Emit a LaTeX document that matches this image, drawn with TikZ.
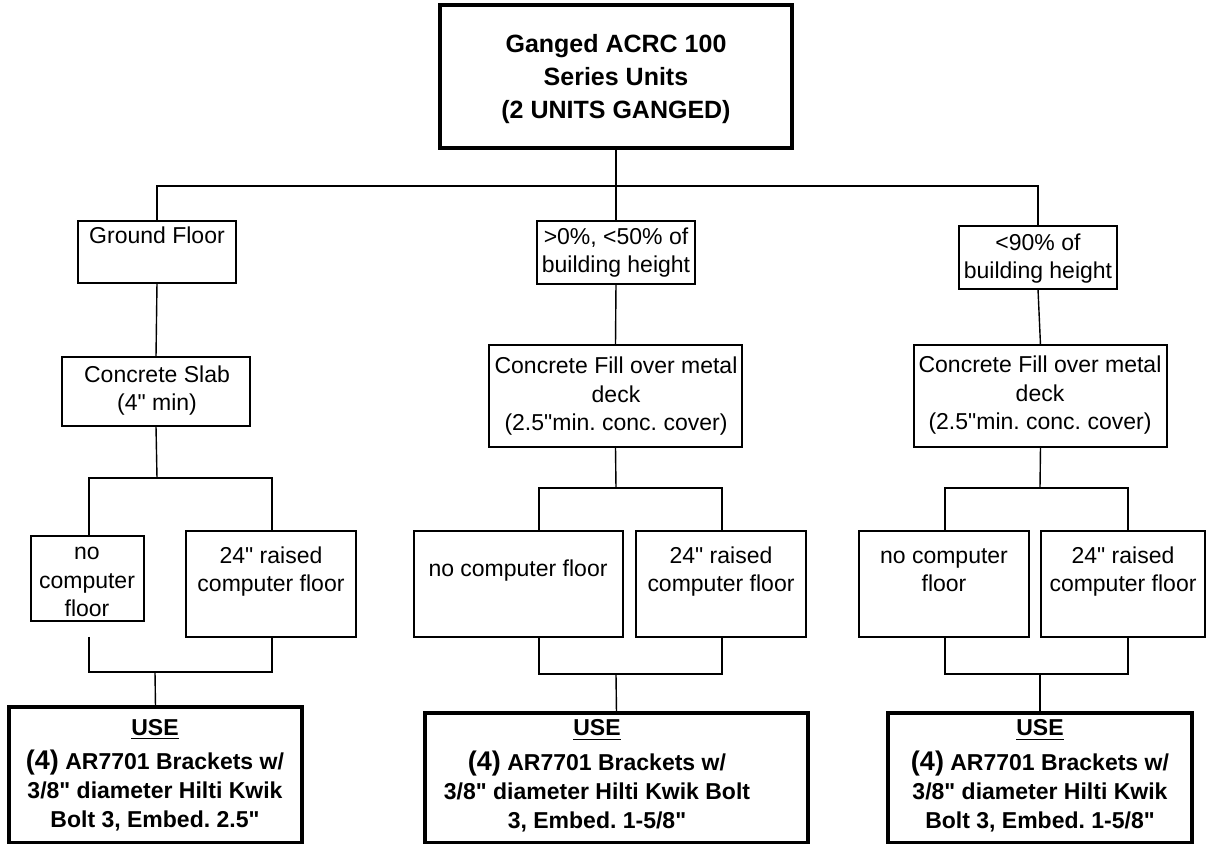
\documentclass[tikz,border=0pt]{standalone}
\usepackage{fontspec}
\newfontfamily\arial{Liberation Sans}
\frenchspacing
\newcommand\bx[6]{\node[#1, minimum width={(#5-#3)*0.5pt}, minimum height={(#6-#4)*0.5pt}] (#2) at ({(#3+#5)/2},{(#4+#6)/2}) {};}
\newcommand\bigfour{{\fontsize{13.5}{14.5}\selectfont(4)}}
\tikzset{
  thinbox/.style={draw, line width=0.75pt, inner sep=0pt, outer sep=0pt},
  thickbox/.style={draw, line width=1.6pt, inner sep=0pt, outer sep=0pt},
  lbl/.style={align=center, inner sep=0pt, anchor=base, font=\arial\fontsize{11.5}{14.25}\selectfont},
  blbl/.style={align=center, inner sep=0pt, anchor=base, font=\arial\bfseries\fontsize{11.5}{14.5}\selectfont},
  tlbl/.style={align=center, inner sep=0pt, anchor=base, font=\arial\bfseries\fontsize{12.5}{16.5}\selectfont},
  conn/.style={line width=0.7pt},
}
\begin{document}
\begin{tikzpicture}[x=0.5pt, y=-0.5pt]
\fill[white] (0,0) rectangle (1207,844);
\useasboundingbox (0,0) rectangle (1207,844);
% boxes
\bx{thickbox}{title}{440}{5}{792}{148}
\bx{thinbox}{gf}{78}{221}{236}{283}
\bx{thinbox}{mid}{537}{221}{695}{284}
\bx{thinbox}{n90}{959}{226}{1117}{289}
\bx{thinbox}{slab}{62}{357}{250}{426}
\bx{thinbox}{cf2}{489}{345}{742}{447}
\bx{thinbox}{cf3}{914}{345}{1167}{447}
\bx{thinbox}{nc1}{31}{536}{144}{621}
\bx{thinbox}{rc1}{186}{531}{356}{637}
\bx{thinbox}{nc2}{414}{531}{623}{637}
\bx{thinbox}{rc2}{636}{531}{806}{637}
\bx{thinbox}{nc3}{859}{531}{1029}{637}
\bx{thinbox}{rc3}{1041}{531}{1205}{637}
\bx{thickbox}{use1}{9}{707}{302}{843}
\bx{thickbox}{use2}{425}{713}{808}{843}
\bx{thickbox}{use3}{888}{713}{1192}{843}
% texts (anchored at the baseline of their last line)
\node[tlbl] (t-title) at (616,119) {Ganged ACRC 100\\Series Units\\(2 UNITS GANGED)};
\node[lbl] (t-gf) at (157,244) {Ground Floor};
\node[lbl] (t-mid) at (616,273) {>0\%, <50\% of\\building height};
\node[lbl] (t-n90) at (1038,279) {<90\% of\\building height};
\node[lbl] (t-slab) at (157,411) {Concrete Slab\\(4" min)};
\node[lbl] (t-cf2) at (616,431) {Concrete Fill over metal\\deck\\(2.5"min. conc. cover)};
\node[lbl] (t-cf3) at (1040,430) {Concrete Fill over metal\\deck\\(2.5"min. conc. cover)};
\node[lbl] (t-nc1) at (87,617) {no\\computer\\floor};
\node[lbl] (t-rc1) at (271,592) {24" raised\\computer floor};
\node[lbl] (t-nc2) at (518,577) {no computer floor};
\node[lbl] (t-rc2) at (721,592) {24" raised\\computer floor};
\node[lbl] (t-nc3) at (944,592) {no computer\\floor};
\node[lbl] (t-rc3) at (1123,592) {24" raised\\computer floor};
\node[blbl] (t-use1) at (155,828) {\underline{USE}\\[3pt]\bigfour{} AR7701 Brackets w/\\3/8" diameter Hilti Kwik\\Bolt 3, Embed. 2.5"};
\node[blbl] (t-use2) at (597,829) {\underline{USE}\\[3pt]\bigfour{} AR7701 Brackets w/\\3/8" diameter Hilti Kwik Bolt\\3, Embed. 1-5/8"};
\node[blbl] (t-use3) at (1040,829) {\underline{USE}\\[3pt]\bigfour{} AR7701 Brackets w/\\3/8" diameter Hilti Kwik\\Bolt 3, Embed. 1-5/8"};
% junction coordinates
\coordinate (hub) at (616,186);
\coordinate (s1) at (157,478); \coordinate (s1l) at (89,478); \coordinate (s1r) at (272,478);
\coordinate (b1) at (155,672); \coordinate (b1l) at (89,672); \coordinate (b1r) at (272,672);
\coordinate (s2) at (616,488); \coordinate (s2l) at (539,488); \coordinate (s2r) at (722,488);
\coordinate (b2) at (616,674); \coordinate (b2l) at (539,674); \coordinate (b2r) at (722,674);
\coordinate (s3) at (1040,488); \coordinate (s3l) at (945,488); \coordinate (s3r) at (1128,488);
\coordinate (b3) at (1040,674); \coordinate (b3l) at (945,674); \coordinate (b3r) at (1128,674);
% connectors
\draw[conn] (title.south) -- (hub);
\draw[conn] (gf.north) |- (hub) -| (n90.north);
\draw[conn] (hub) -- (mid.north);
\draw[conn] (gf.south) -- (slab.north);
\draw[conn] (mid.south) -- (cf2.north);
\draw[conn] (n90.south) -- (cf3.north);
\draw[conn] (slab.south) -- (s1);
\draw[conn] (s1l |- nc1.north) -- (s1l) -- (s1r) -- (s1r |- rc1.north);
\draw[conn] (b1l |- rc1.south) -- (b1l) -- (b1r) -- (b1r |- rc1.south);
\draw[conn] (b1) -- (use1.north);
\draw[conn] (cf2.south) -- (s2);
\draw[conn] (s2l |- nc2.north) -- (s2l) -- (s2r) -- (s2r |- rc2.north);
\draw[conn] (b2l |- nc2.south) -- (b2l) -- (b2r) -- (b2r |- rc2.south);
\draw[conn] (b2) -- (use2.north);
\draw[conn] (cf3.south) -- (s3);
\draw[conn] (s3l |- nc3.north) -- (s3l) -- (s3r) -- (s3r |- rc3.north);
\draw[conn] (b3l |- nc3.south) -- (b3l) -- (b3r) -- (b3r |- rc3.south);
\draw[conn] (b3) -- (use3.north);
\end{tikzpicture}
\end{document}
